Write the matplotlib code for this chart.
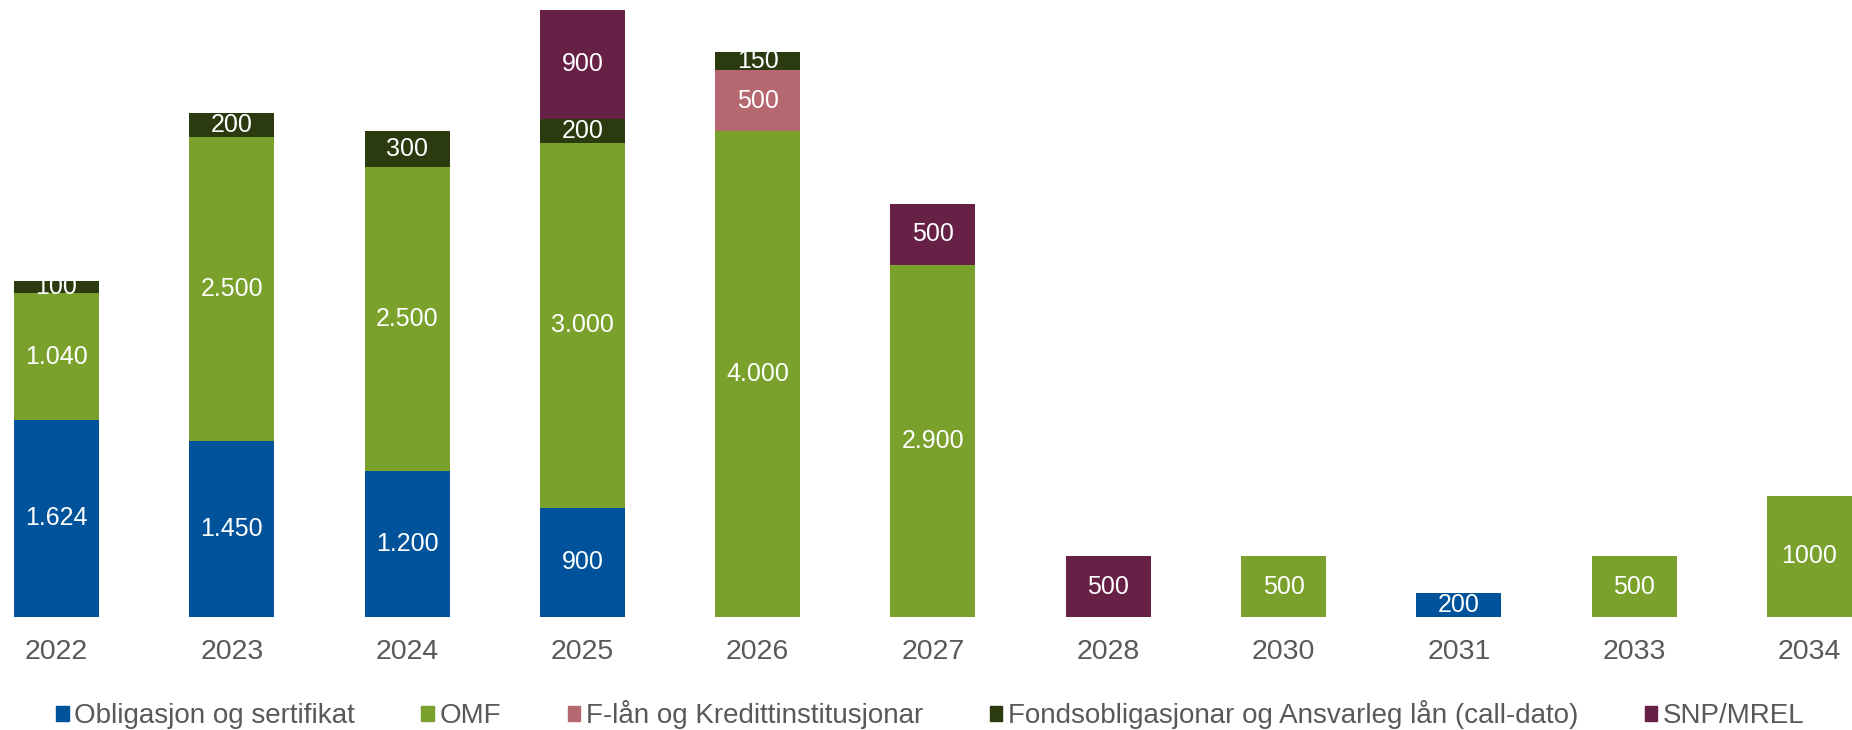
import matplotlib
matplotlib.use("Agg")
import matplotlib.pyplot as plt
from matplotlib.patches import Patch

plt.rcParams['font.family'] = ['Liberation Sans', 'DejaVu Sans']

YEARS = ['2022', '2023', '2024', '2025', '2026', '2027', '2028', '2030', '2031', '2033', '2034']

OBLIG = [1624, 1450, 1200, 900, 0, 0, 0, 0, 200, 0, 0]
OMF = [1040, 2500, 2500, 3000, 4000, 2900, 0, 500, 0, 500, 1000]
FLAN = [0, 0, 0, 0, 500, 0, 0, 0, 0, 0, 0]
FONDS = [100, 200, 300, 200, 150, 0, 0, 0, 0, 0, 0]
SNP = [0, 0, 0, 900, 0, 500, 500, 0, 0, 0, 0]

OBLIG_LBL = ['1.624', '1.450', '1.200', '900', '', '', '', '', '200', '', '']
OMF_LBL = ['1.040', '2.500', '2.500', '3.000', '4.000', '2.900', '', '500', '', '500', '1000']
FLAN_LBL = ['', '', '', '', '500', '', '', '', '', '', '']
FONDS_LBL = ['100', '200', '300', '200', '150', '', '', '', '', '', '']
SNP_LBL = ['', '', '', '900', '', '500', '500', '', '', '', '']

SERIES = [
    ('Obligasjon og sertifikat', OBLIG, OBLIG_LBL, '#00539B'),
    ('OMF', OMF, OMF_LBL, '#7BA12D'),
    ('F-lån og Kredittinstitusjonar', FLAN, FLAN_LBL, '#B66870'),
    ('Fondsobligasjonar og Ansvarleg lån (call-dato)', FONDS, FONDS_LBL, '#2C3A10'),
    ('SNP/MREL', SNP, SNP_LBL, '#672046'),
]

fig = plt.figure(figsize=(18.52, 7.3), dpi=100)
ax = fig.add_axes([0, 113 / 730, 1, 607.5 / 730])

x = list(range(len(YEARS)))
bottom = [0] * len(YEARS)
for name, vals, lbls, col in SERIES:
    bars = ax.bar(x, vals, width=0.485, bottom=bottom, color=col, label=name)
    for i, (v, l) in enumerate(zip(vals, lbls)):
        if v > 0 and l:
            ax.text(i, bottom[i] + v / 2, l, ha='center', va='center',
                    color='white', fontsize=18)
    bottom = [b + v for b, v in zip(bottom, vals)]

ax.set_xlim(-0.322, 10.2425)
ax.set_ylim(0, 5000)
ax.set_xticks(x)
ax.set_xticklabels(YEARS, fontsize=20.5, color='#595959')
ax.tick_params(axis='x', length=0, pad=16)
ax.set_yticks([])
for s in ax.spines.values():
    s.set_visible(False)

handles = [Patch(color=col, label=name) for name, _, _, col in SERIES]
fig.legend(handles=handles, loc='center left', bbox_to_anchor=(56 / 1852, 15.5 / 730),
           ncol=5, frameon=False, fontsize=20, labelcolor='#595959',
           handlelength=0.45, handleheight=0.45, handletextpad=0.2,
           columnspacing=2.4, borderpad=0, borderaxespad=0)

fig.savefig('out.png', dpi=100)
